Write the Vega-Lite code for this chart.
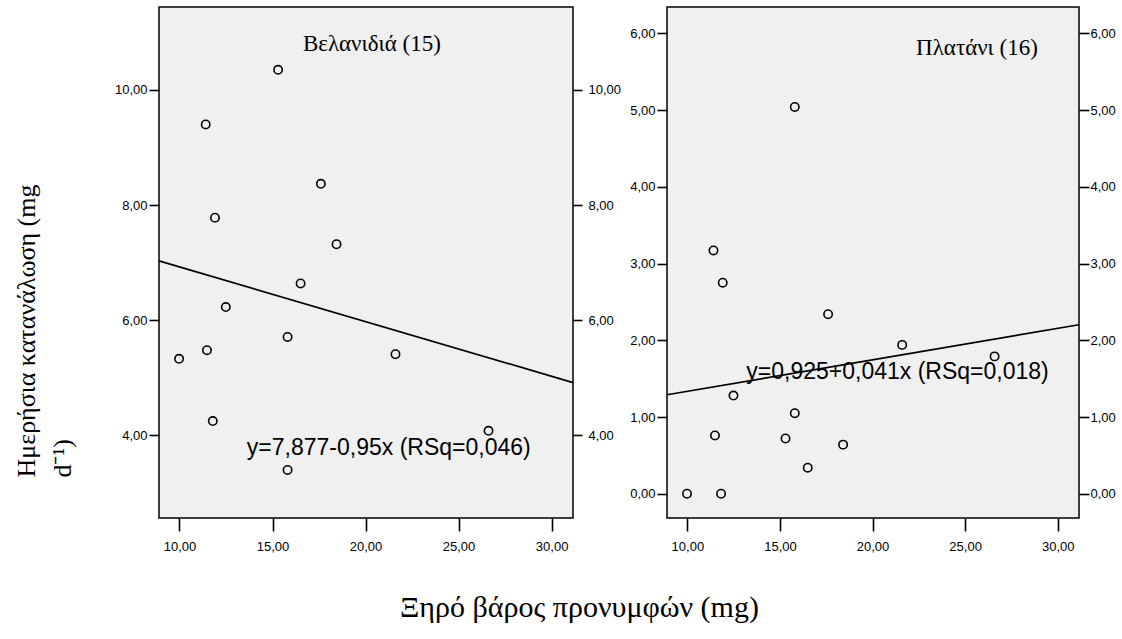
{
  "$schema": "https://vega.github.io/schema/vega-lite/v6.json",
  "padding": {"left": 12, "top": 6, "right": 0, "bottom": 0},
  "background": "white",
  "spacing": 94,
  "bounds": "flush",
  "config": {
    "view": {"fill": "#f0f0f0", "stroke": "#000000", "strokeWidth": 1.5},
    "axis": {
      "labelFont": "Liberation Sans",
      "labelFontSize": 13,
      "labelColor": "#000000",
      "tickColor": "#000000",
      "tickWidth": 1.6,
      "domain": false,
      "grid": false,
      "titleColor": "#000000",
      "titleFontWeight": "normal",
      "labelExpr": "replace(format(datum.value, '.2f'), '.', ',')"
    }
  },
  "datasets": {
    "velanidia": [
      {"x": 15.30, "y": 10.35}, {"x": 11.41, "y": 9.40}, {"x": 17.60, "y": 8.37},
      {"x": 11.91, "y": 7.78}, {"x": 18.44, "y": 7.32}, {"x": 16.51, "y": 6.64},
      {"x": 12.49, "y": 6.23}, {"x": 15.81, "y": 5.71}, {"x": 11.48, "y": 5.48},
      {"x": 9.98, "y": 5.33}, {"x": 21.61, "y": 5.41}, {"x": 11.79, "y": 4.25},
      {"x": 26.61, "y": 4.08}, {"x": 15.81, "y": 3.40}
    ],
    "velanidia_fit": [
      {"x": 8.9, "y": 7.032}, {"x": 31.15, "y": 4.918}
    ],
    "velanidia_labels": [
      {"kind": "title", "x": 20.34, "y": 10.80, "label": "Βελανιδιά (15)"},
      {"kind": "equation", "x": 21.25, "y": 3.79, "label": "y=7,877-0,95x (RSq=0,046)"}
    ],
    "platani": [
      {"x": 15.80, "y": 5.04}, {"x": 11.41, "y": 3.17}, {"x": 11.91, "y": 2.75},
      {"x": 17.60, "y": 2.34}, {"x": 21.60, "y": 1.94}, {"x": 26.59, "y": 1.79},
      {"x": 12.49, "y": 1.28}, {"x": 15.80, "y": 1.05}, {"x": 11.49, "y": 0.76},
      {"x": 15.30, "y": 0.72}, {"x": 18.41, "y": 0.64}, {"x": 16.50, "y": 0.34},
      {"x": 9.98, "y": 0.00}, {"x": 11.82, "y": 0.00}
    ],
    "platani_fit": [
      {"x": 8.9, "y": 1.290}, {"x": 31.15, "y": 2.202}
    ],
    "platani_labels": [
      {"kind": "title", "x": 25.64, "y": 5.81, "label": "Πλατάνι (16)"},
      {"kind": "equation", "x": 21.35, "y": 1.59, "label": "y=0,925+0,041x (RSq=0,018)"}
    ]
  },
  "hconcat": [
    {
      "width": 414,
      "height": 511,
      "layer": [
        {
          "data": {"name": "velanidia"},
          "mark": {"type": "point", "shape": "circle", "filled": false, "size": 70, "stroke": "#000000", "strokeWidth": 1.6, "opacity": 1},
          "encoding": {
            "x": {
              "field": "x", "type": "quantitative",
              "scale": {"domain": [8.9, 31.15], "nice": false, "zero": false},
              "axis": {
                "orient": "bottom", "values": [10, 15, 20, 25, 30],
                "tickSize": 13, "labelPadding": 9,
                "title": "Ξηρό βάρος προνυμφών (mg)",
                "titleFont": "Liberation Serif", "titleFontSize": 30,
                "titleAlign": "center", "titleBaseline": "alphabetic",
                "titleX": 420, "titleY": 98
              }
            },
            "y": {
              "field": "y", "type": "quantitative",
              "scale": {"domain": [2.566, 11.44], "nice": false, "zero": false},
              "axis": {
                "orient": "left", "values": [4, 6, 8, 10],
                "tickSize": 10, "labelPadding": 2,
                "title": ["Ημερήσια κατανάλωση (mg", "d⁻¹)"],
                "titleFont": "Liberation Serif", "titleFontSize": 26,
                "titleLineHeight": 36,
                "titleAngle": 270, "titleAlign": "left", "titleBaseline": "alphabetic",
                "titleX": -124.5, "titleY": 470
              }
            }
          }
        },
        {
          "data": {"name": "velanidia_fit"},
          "mark": {"type": "line", "color": "#000000", "strokeWidth": 1.7},
          "encoding": {
            "x": {"field": "x", "type": "quantitative", "scale": {"domain": [8.9, 31.15], "nice": false, "zero": false}},
            "y": {
              "field": "y", "type": "quantitative",
              "scale": {"domain": [2.566, 11.44], "nice": false, "zero": false},
              "axis": {"orient": "right", "values": [4, 6, 8, 10], "tickSize": 9, "labelPadding": 6, "title": null}
            }
          }
        },
        {
          "data": {"name": "velanidia_labels"},
          "transform": [{"filter": "datum.kind === 'title'"}],
          "mark": {"type": "text", "font": "Liberation Serif", "fontSize": 23, "color": "#000000", "align": "center", "baseline": "middle"},
          "encoding": {
            "x": {"field": "x", "type": "quantitative", "scale": {"domain": [8.9, 31.15], "nice": false, "zero": false}},
            "y": {"field": "y", "type": "quantitative", "scale": {"domain": [2.566, 11.44], "nice": false, "zero": false}, "axis": null},
            "text": {"field": "label"}
          }
        },
        {
          "data": {"name": "velanidia_labels"},
          "transform": [{"filter": "datum.kind === 'equation'"}],
          "mark": {"type": "text", "font": "Liberation Sans", "fontSize": 23, "color": "#000000", "align": "center", "baseline": "middle"},
          "encoding": {
            "x": {"field": "x", "type": "quantitative", "scale": {"domain": [8.9, 31.15], "nice": false, "zero": false}},
            "y": {"field": "y", "type": "quantitative", "scale": {"domain": [2.566, 11.44], "nice": false, "zero": false}, "axis": null},
            "text": {"field": "label"}
          }
        }
      ],
      "resolve": {"axis": {"y": "independent"}}
    },
    {
      "width": 412,
      "height": 511,
      "layer": [
        {
          "data": {"name": "platani"},
          "mark": {"type": "point", "shape": "circle", "filled": false, "size": 70, "stroke": "#000000", "strokeWidth": 1.6, "opacity": 1},
          "encoding": {
            "x": {
              "field": "x", "type": "quantitative",
              "scale": {"domain": [8.9, 31.15], "nice": false, "zero": false},
              "axis": {"orient": "bottom", "values": [10, 15, 20, 25, 30], "tickSize": 13, "labelPadding": 9, "title": null}
            },
            "y": {
              "field": "y", "type": "quantitative",
              "scale": {"domain": [-0.316, 6.343], "nice": false, "zero": false},
              "axis": {"orient": "left", "values": [0, 1, 2, 3, 4, 5, 6], "tickSize": 10, "labelPadding": 2, "title": null}
            }
          }
        },
        {
          "data": {"name": "platani_fit"},
          "mark": {"type": "line", "color": "#000000", "strokeWidth": 1.7},
          "encoding": {
            "x": {"field": "x", "type": "quantitative", "scale": {"domain": [8.9, 31.15], "nice": false, "zero": false}},
            "y": {
              "field": "y", "type": "quantitative",
              "scale": {"domain": [-0.316, 6.343], "nice": false, "zero": false},
              "axis": {"orient": "right", "values": [0, 1, 2, 3, 4, 5, 6], "tickSize": 10, "labelPadding": 1, "title": null}
            }
          }
        },
        {
          "data": {"name": "platani_labels"},
          "transform": [{"filter": "datum.kind === 'title'"}],
          "mark": {"type": "text", "font": "Liberation Serif", "fontSize": 23, "color": "#000000", "align": "center", "baseline": "middle"},
          "encoding": {
            "x": {"field": "x", "type": "quantitative", "scale": {"domain": [8.9, 31.15], "nice": false, "zero": false}},
            "y": {"field": "y", "type": "quantitative", "scale": {"domain": [-0.316, 6.343], "nice": false, "zero": false}, "axis": null},
            "text": {"field": "label"}
          }
        },
        {
          "data": {"name": "platani_labels"},
          "transform": [{"filter": "datum.kind === 'equation'"}],
          "mark": {"type": "text", "font": "Liberation Sans", "fontSize": 23, "color": "#000000", "align": "center", "baseline": "middle"},
          "encoding": {
            "x": {"field": "x", "type": "quantitative", "scale": {"domain": [8.9, 31.15], "nice": false, "zero": false}},
            "y": {"field": "y", "type": "quantitative", "scale": {"domain": [-0.316, 6.343], "nice": false, "zero": false}, "axis": null},
            "text": {"field": "label"}
          }
        }
      ],
      "resolve": {"axis": {"y": "independent"}}
    }
  ]
}
